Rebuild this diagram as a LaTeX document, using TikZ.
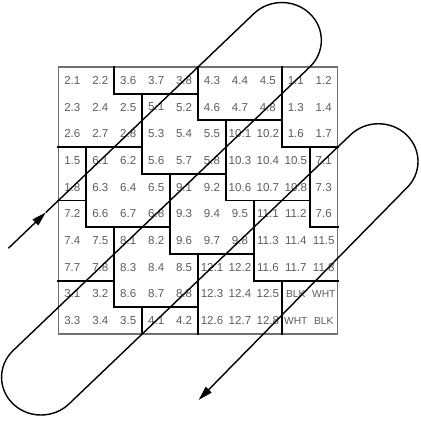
\documentclass[tikz,border=0pt]{standalone}
\usepackage{fontspec}
\setmainfont{Liberation Sans}
\usepackage{tikz}
\usetikzlibrary{arrows.meta}
\definecolor{cellGray}{HTML}{5C5C5C}
\definecolor{frameGray}{HTML}{707070}
\newcommand\tagfont{\fontsize{7.3}{8}\selectfont}

\begin{document}
\begin{tikzpicture}[x=0.6975cm,y=0.6667cm,font=\fontsize{8.2}{9}\selectfont,
  cell/.style={text=cellGray,inner sep=0pt},
  wall/.style={line width=1.4pt,line cap=rect},
  frame/.style={line width=0.8pt,frameGray},
  trace/.style={line width=1pt},
  head/.style={-{Triangle[length=3.6mm,width=2mm]}}]
  \useasboundingbox (-2.090,-3.371) rectangle (12.964,12.509);
  \def\rr{1.4142}
  \foreach \row [count=\r from 0] in {
    {2.1,2.2,3.6,3.7,3.8,4.3,4.4,4.5,1.1,1.2},
    {2.3,2.4,2.5,5.1,5.2,4.6,4.7,4.8,1.3,1.4},
    {2.6,2.7,2.8,5.3,5.4,5.5,10.1,10.2,1.6,1.7},
    {1.5,6.1,6.2,5.6,5.7,5.8,10.3,10.4,10.5,7.1},
    {1.8,6.3,6.4,6.5,9.1,9.2,10.6,10.7,10.8,7.3},
    {7.2,6.6,6.7,6.8,9.3,9.4,9.5,11.1,11.2,7.6},
    {7.4,7.5,8.1,8.2,9.6,9.7,9.8,11.3,11.4,11.5},
    {7.7,7.8,8.3,8.4,8.5,12.1,12.2,11.6,11.7,11.8},
    {3.1,3.2,8.6,8.7,8.8,12.3,12.4,12.5,{\tagfont BLK},{\tagfont WHT}},
    {3.3,3.4,3.5,4.1,4.2,12.6,12.7,12.8,{\tagfont WHT},{\tagfont BLK}}}{
    \foreach \t [count=\c from 0] in \row{
      \node[cell] (c\r-\c) at (\c+0.5,9.5-\r) {\t};
    }
  }
  \draw[frame] (0,0) rectangle (10,10);
  \draw[wall] (2,10) -- (2,9) -- (5,9);
  \draw[wall] (5,10) -- (5,8) -- (8,8);
  \draw[wall] (8,10) -- (8,7) -- (10,7);
  \draw[wall] (0,7) -- (3,7);
  \draw[wall] (3,9) -- (3,6) -- (6,6);
  \draw[wall] (6,8) -- (6,5) -- (9,5);
  \draw[wall] (9,7) -- (9,4) -- (10,4);
  \draw[wall] (1,7) -- (1,4) -- (4,4);
  \draw[wall] (0,5) -- (1,5);
  \draw[wall] (4,6) -- (4,3) -- (7,3);
  \draw[wall] (7,5) -- (7,2) -- (10,2);
  \draw[wall] (0,2) -- (2,2);
  \draw[wall] (2,4) -- (2,1) -- (5,1);
  \draw[wall] (5,3) -- (5,0);
  \draw[wall] (3,1) -- (3,0);
  \draw[wall] (8,2) -- (8,0);
  \coordinate (entry) at (-1.79,3.21);
  \coordinate (mid) at (-0.45,4.55);
  \coordinate (topIn) at (7,12);
  \coordinate (leftIn) at (-1.62,-0.62);
  \coordinate (rightIn) at (10.46,7.46);
  \coordinate (exit) at (5.02,-2.47);
  \draw[trace,head] (entry) -- (mid);
  \draw[trace,head] (mid) -- (topIn) arc[start angle=135,end angle=-45,radius=\rr]
    -- (leftIn) arc[start angle=135,end angle=315,radius=\rr]
    -- (rightIn) arc[start angle=135,end angle=-45,radius=\rr]
    -- (exit);
\end{tikzpicture}
\end{document}
